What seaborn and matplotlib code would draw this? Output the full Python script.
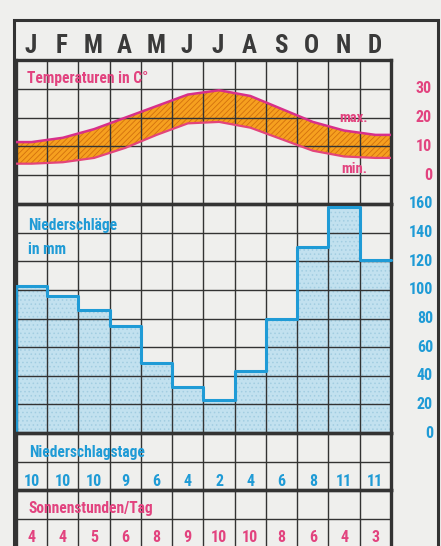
import numpy as np
import matplotlib
matplotlib.use("Agg")
import matplotlib.pyplot as plt
from matplotlib.patches import Rectangle
import seaborn as sns

# data
months = ["J", "F", "M", "A", "M", "J", "J", "A", "S", "O", "N", "D"]
temp_max = [11.5, 13, 16, 20, 24, 28, 29.5, 27.5, 23, 18.5, 15.5, 14]
temp_min = [4, 4.5, 6, 9.5, 14, 18, 18.5, 16.5, 12.5, 8.5, 6.5, 6]
precip = [103, 96, 86, 75, 49, 32, 23, 43, 80, 130, 158, 121]
rain_days = [10, 10, 10, 9, 6, 4, 2, 4, 6, 8, 11, 11]
sun_hours = [4, 4, 5, 6, 8, 9, 10, 10, 8, 6, 4, 3]
temp_ticks = [0, 10, 20, 30]
precip_ticks = [0, 20, 40, 60, 80, 100, 120, 140, 160]

PINK = "#e2437f"
BLUE = "#1f9bd6"
ORANGE = "#f6a01f"
ORANGE_HATCH = "#d2700e"
MAGENTA = "#d8308a"
LIGHTBLUE = "#c2e1ef"
GRID = "#333333"
BG = "#efefed"

sns.set_style("white")
plt.rcParams["font.family"] = ["Roboto Condensed", "DejaVu Sans"]
plt.rcParams["font.weight"] = "bold"
plt.rcParams["hatch.linewidth"] = 0.6

W, H = 441, 546
fig = plt.figure(figsize=(W / 100, H / 100), dpi=100)
fig.patch.set_facecolor(BG)


def box(x0, y0, x1, y1):
    return [x0 / W, 1 - y1 / H, (x1 - x0) / W, (y1 - y0) / H]


GX0, GX1 = 16, 391
ax_t = fig.add_axes(box(GX0, 60, GX1, 204))
ax_p = fig.add_axes(box(GX0, 204, GX1, 433))
ax_d = fig.add_axes(box(GX0, 433, GX1, 490))
ax_s = fig.add_axes(box(GX0, 490, GX1, 548))

x = np.arange(12)

# temperature band
x_ext = np.r_[-0.5, x, 11.5]
tmax_ext = np.pad(np.array(temp_max, float), 1, mode="edge")
tmin_ext = np.pad(np.array(temp_min, float), 1, mode="edge")
ax_t.fill_between(x_ext, tmin_ext, tmax_ext, facecolor=ORANGE, edgecolor=ORANGE_HATCH,
                  hatch="//////", linewidth=0, zorder=1)
sns.lineplot(x=x_ext, y=tmax_ext, ax=ax_t, color=MAGENTA, lw=1.8, zorder=3)
sns.lineplot(x=x_ext, y=tmin_ext, ax=ax_t, color="#e4457a", lw=1.6, zorder=3)

# precipitation
sns.barplot(x=x, y=precip, ax=ax_p, width=1, color=LIGHTBLUE, saturation=1,
            edgecolor="#a2cde1", hatch="....", linewidth=0, zorder=1)
edges = np.arange(-0.5, 12.5)
ax_p.step(np.r_[-0.5, edges], np.r_[0, precip, precip[-1]], where="post",
          color=BLUE, lw=2.2, zorder=3, clip_on=False)


def style(ax, ylim, yticks):
    ax.set_xlim(-0.5, 11.5)
    ax.set_ylim(*ylim)
    ax.set_xticks(np.arange(-0.5, 12))
    ax.set_yticks(yticks)
    ax.tick_params(length=0, labelbottom=False, labelleft=False)
    ax.set_xlabel("")
    ax.set_ylabel("")
    ax.grid(True, color=GRID, lw=1.0)
    ax.set_axisbelow(False)
    ax.set_facecolor("none")
    for s in ax.spines.values():
        s.set_visible(True)
        s.set_color(GRID)
        s.set_linewidth(2.4)


style(ax_t, (-10, 40), [-10, 0, 10, 20, 30, 40])
style(ax_p, (0, 160), precip_ticks)
style(ax_d, (0, 2), [1])
style(ax_s, (0, 2), [1])

# month header
for i, m in enumerate(months):
    fig.text((GX0 + (i + 0.5) * (GX1 - GX0) / 12 - 1) / W, 1 - 53 / H, m,
             ha="center", va="baseline", fontsize=18, color="#3a3a3a", fontweight="bold")

# titles
ax_t.text(-0.14, 32.0, "Temperaturen in C°", color=PINK, fontsize=11.2, va="baseline")
ax_t.text(9.84, 18.4, "max.", color=PINK, fontsize=10.5, va="baseline")
ax_t.text(9.9, 0.9, "min.", color=PINK, fontsize=10.5, va="baseline")
ax_p.text(-0.1, 141.8, "Niederschläge", color=BLUE, fontsize=11.2, va="baseline")
ax_p.text(-0.1, 124.9, "in mm", color=BLUE, fontsize=11.2, va="baseline")
ax_d.text(-0.08, 1.16, "Niederschlagstage", color=BLUE, fontsize=11.2, va="baseline")
ax_s.text(-0.1, 1.2, "Sonnenstunden/Tag", color=PINK, fontsize=11.2, va="baseline")

# right-hand scales
xr = (432 - GX0) / (GX1 - GX0)
for v in temp_ticks:
    ax_t.text(xr, v, str(v), transform=ax_t.get_yaxis_transform(), ha="right",
              va="center", color=PINK, fontsize=11.5, clip_on=False)
for v in precip_ticks:
    ax_p.text(xr + 0.003, v, str(v), transform=ax_p.get_yaxis_transform(), ha="right",
              va="center", color=BLUE, fontsize=11.5, clip_on=False)

# table rows
for i in range(12):
    ax_d.text(i, 0.14, str(rain_days[i]), ha="center", va="baseline", color=BLUE, fontsize=11.5)
    ax_s.text(i, 0.2, str(sun_hours[i]), ha="center", va="baseline", color=PINK, fontsize=11.5)

# outer frame
fig.add_artist(Rectangle((14 / W, -0.05), (438 - 14) / W, 1 - 20 / H + 0.05,
                         transform=fig.transFigure, fill=False, edgecolor=GRID, lw=2.2))

fig.savefig("out.png", dpi=100, facecolor=BG)
